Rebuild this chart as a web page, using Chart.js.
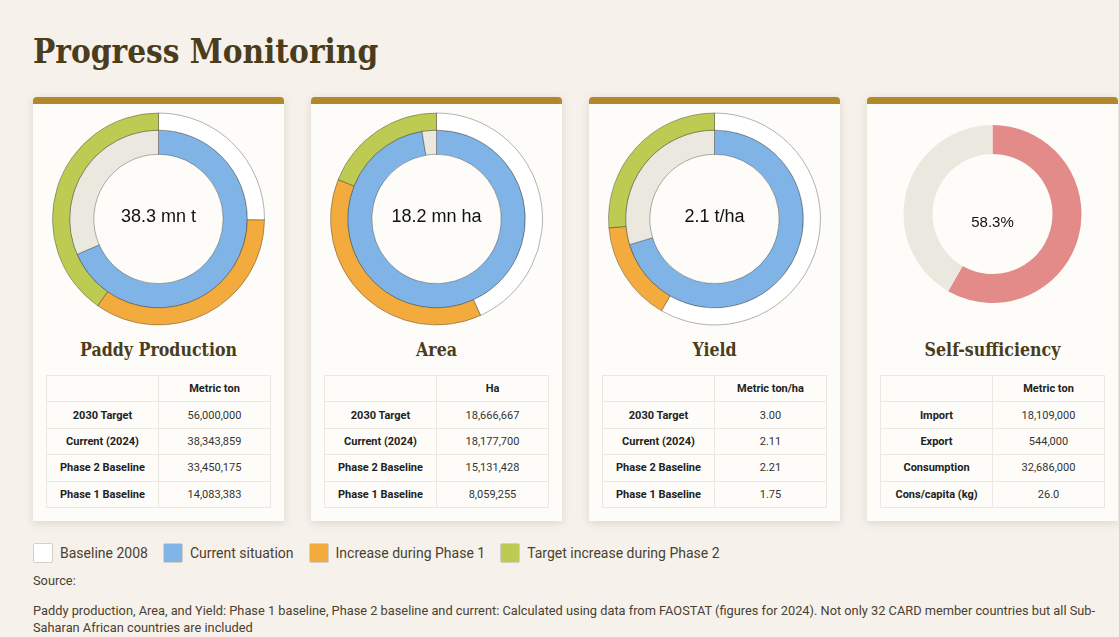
<!DOCTYPE html>
<html>
<head>
<meta charset="utf-8">
<title>Progress Monitoring</title>
<script src="https://cdn.jsdelivr.net/npm/chart.js"></script>
<style>
  html, body { margin: 0; padding: 0; }
  body {
    background: #f6f2eb;
    font-family: Roboto, "Noto Sans", Arial, sans-serif;
    color: #4a3f30;
    width: 1119px;
    height: 637px;
    overflow: hidden;
  }
  .page { padding: 0 0 0 33px; width: 1085px; }
  h1 {
    font-family: "DejaVu Serif Condensed", "DejaVu Serif", serif;
    font-stretch: condensed;
    font-weight: bold;
    font-size: 33px;
    color: #4b3c1c;
    margin: 0;
    padding-top: 30px;
    height: 97px;
    line-height: 44px;
    box-sizing: border-box;
  }
  .cards { display: flex; gap: 27px; margin-top: 0; }
  .card {
    width: 251px;
    background: #fdfcf8;
    border-top: 7px solid #b1892c;
    border-radius: 4px 4px 0 0;
    box-shadow: 0 2px 8px rgba(60, 45, 20, 0.15);
    padding: 0 13px 13px;
    box-sizing: border-box;
  }
  .donut { position: relative; height: 226px; margin: 2px -13px 0; }
  .donut canvas { position: absolute; left: 0; top: 0; }
  .center {
    position: absolute; left: 0; right: 0; top: 50%;
    transform: translateY(-50%); margin-top: -3px;
    text-align: center;
    font-family: "Liberation Sans", Arial, sans-serif;
    font-size: 18px; color: #111;
  }
  .center.small { font-size: 15px; margin-top: 2px; }
  h2 {
    font-family: "DejaVu Serif Condensed", "DejaVu Serif", serif;
    font-stretch: condensed;
    font-weight: bold;
    font-size: 17.6px;
    color: #4b3c1c;
    text-align: center;
    margin: 7px 0 14px;
    line-height: 22px;
  }
  table { width: 100%; border-collapse: collapse; table-layout: fixed; font-size: 11px; }
  td, th {
    border: 1px solid #ebe8e1;
    height: 25.4px; padding: 0; text-align: center;
    color: #333;
  }
  th { font-weight: bold; color: #222; }
  td.lab { font-weight: bold; color: #222; }
  .legend { display: flex; align-items: center; margin-top: 22px; height: 20px; font-size: 14px; }
  .legend .item { display: flex; align-items: center; margin-right: 15px; }
  .legend .sw {
    width: 18px; height: 18px; border: 1px solid #d4d0c8; border-radius: 2px;
    margin-right: 7px;
  }
  .source { font-size: 12.8px; margin: 9px 0 0; line-height: 17px; }
  .note { font-size: 12.8px; margin: 13px 0 0; line-height: 17px; }
</style>
</head>
<body>
<div class="page">
  <h1>Progress Monitoring</h1>
  <div class="cards" id="cards"></div>
  <div class="legend" id="legend"></div>
  <p class="source">Source:</p>
  <p class="note">Paddy production, Area, and Yield: Phase 1 baseline, Phase 2 baseline and current: Calculated using data from FAOSTAT (figures for 2024). Not only 32 CARD member countries but all Sub-Saharan African countries are included</p>
</div>

<script>
// card texts
const cardTitles = ['Paddy Production', 'Area', 'Yield', 'Self-sufficiency'];
const centerLabels = ['38.3 mn t', '18.2 mn ha', '2.1 t/ha', '58.3%'];
const unitHeaders = ['Metric ton', 'Ha', 'Metric ton/ha', 'Metric ton'];
const phaseRowLabels = ['2030 Target', 'Current (2024)', 'Phase 2 Baseline', 'Phase 1 Baseline'];
const selfRowLabels = ['Import', 'Export', 'Consumption', 'Cons/capita (kg)'];

// values: target, current, phase 2 baseline, phase 1 baseline
const paddyValues = [56000000, 38343859, 33450175, 14083383];
const areaValues = [18666667, 18177700, 15131428, 8059255];
const yieldValues = [3.00, 2.11, 2.21, 1.75];

// self-sufficiency
const selfValues = [18109000, 544000, 32686000, 26.0];
const selfDecimals = [0, 0, 0, 1];
const selfSufficiency = 58.3;

// legend
const legendLabels = ['Baseline 2008', 'Current situation', 'Increase during Phase 1', 'Target increase during Phase 2'];
const legendColors = ['#ffffff', '#80b3e6', '#f2ab3c', '#bdcb52'];
const remainColor = '#ebe9df';
const selfColor = '#e38b89';

const fmt = (v, d) => v.toLocaleString('en-US', { minimumFractionDigits: d, maximumFractionDigits: d });

const cardsEl = document.getElementById('cards');

const makeCard = (i, rowLabels, values, decimals) => {
    const card = document.createElement('div');
    card.className = 'card';
    let rows = '';
    for (let r = 0; r < rowLabels.length; r++) {
        rows += `<tr><td class="lab">${rowLabels[r]}</td><td>${fmt(values[r], decimals[r])}</td></tr>`;
    }
    card.innerHTML = `
        <div class="donut"><canvas></canvas><div class="center${i === 3 ? ' small' : ''}">${centerLabels[i]}</div></div>
        <h2>${cardTitles[i]}</h2>
        <table><tr><th></th><th>${unitHeaders[i]}</th></tr>${rows}</table>`;
    cardsEl.appendChild(card);
    return card.querySelector('canvas');
};

// doughnut with target rings
const phaseChart = (canvas, values) => {
    const [target, current, p2, p1] = values;
    new Chart(canvas, {
        type: 'doughnut',
        data: {
            labels: legendLabels,
            datasets: [
                {
                    data: [p1, p2 - p1, target - p2],
                    backgroundColor: [legendColors[0], legendColors[2], legendColors[3]],
                    borderColor: 'rgba(0,0,0,0.3)',
                    borderWidth: 1,
                    weight: 17
                },
                {
                    data: [current, Math.max(target - current, 0)],
                    backgroundColor: [legendColors[1], remainColor],
                    borderColor: 'rgba(0,0,0,0.3)',
                    borderWidth: 1,
                    weight: 24
                }
            ]
        },
        options: {
            responsive: true,
            maintainAspectRatio: false,
            animation: false,
            radius: 106,
            cutout: '61%',
            plugins: { legend: { display: false }, tooltip: { enabled: false } },
            events: []
        }
    });
};

const cv0 = makeCard(0, phaseRowLabels, paddyValues, [0, 0, 0, 0]);
const cv1 = makeCard(1, phaseRowLabels, areaValues, [0, 0, 0, 0]);
const cv2 = makeCard(2, phaseRowLabels, yieldValues, [2, 2, 2, 2]);
const cv3 = makeCard(3, selfRowLabels, selfValues, selfDecimals);

phaseChart(cv0, paddyValues);
phaseChart(cv1, areaValues);
phaseChart(cv2, yieldValues);

new Chart(cv3, {
    type: 'doughnut',
    data: {
        labels: ['Self-sufficiency', 'Imports'],
        datasets: [{
            data: [selfSufficiency, 100 - selfSufficiency],
            backgroundColor: [selfColor, remainColor],
            borderWidth: 0
        }]
    },
    options: {
        responsive: true,
        maintainAspectRatio: false,
        animation: false,
        radius: 89,
        cutout: '67.4%',
        layout: { padding: { bottom: 10 } },
        plugins: { legend: { display: false }, tooltip: { enabled: false } },
        events: []
    }
});

// html legend
const legendEl = document.getElementById('legend');
legendLabels.forEach((label, i) => {
    const item = document.createElement('div');
    item.className = 'item';
    item.innerHTML = `<span class="sw" style="background:${legendColors[i]}"></span><span>${label}</span>`;
    legendEl.appendChild(item);
});
</script>
</body>
</html>
